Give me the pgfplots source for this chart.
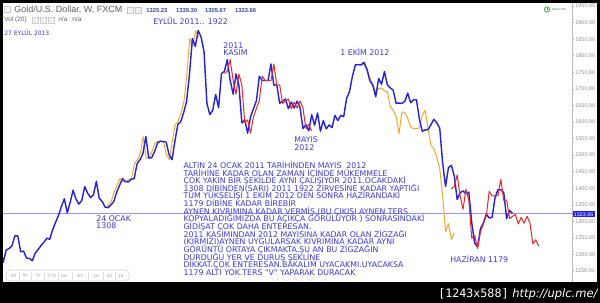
\documentclass[border=0pt]{standalone}
\usepackage{pgfplots}
\pgfplotsset{compat=1.18}
\usepackage{fontspec}
\setmainfont{Liberation Sans}
\newfontfamily\dv{DejaVu Sans}
\newfontfamily\dvm{DejaVu Sans Mono}
\definecolor{bl}{RGB}{35,35,220}
\definecolor{org}{RGB}{246,168,40}
\definecolor{rd}{RGB}{232,40,40}
\definecolor{txtb}{RGB}{62,58,218}
\definecolor{cur}{RGB}{150,150,240}
\definecolor{numb}{RGB}{55,75,165}
\definecolor{curbox}{RGB}{30,30,235}
\newcommand{\ann}[3]{\node[anchor=base west,inner sep=0pt,text=txtb,font=\dv\fontsize{4.7pt}{5pt}\selectfont] at (#1,#2) {#3};}
\newcommand{\pline}[2]{\node[anchor=base west,inner sep=0pt,text=txtb,font=\dv\fontsize{4.7pt}{5pt}\selectfont] at (183.3,#1) {#2};}
\begin{document}
\begin{tikzpicture}
\fill[black] (0,0) rectangle (360pt,-181.8pt);
\useasboundingbox (0,0) rectangle (360pt,-181.8pt);
\fill[white] (1.8pt,-1.8pt) rectangle (358.2pt,-169.2pt);
\begin{axis}[
  at={(1.8pt,-169.2pt)}, anchor=south west,
  width=341.4pt, height=167.4pt, scale only axis,
  xmin=-36.08, xmax=159.45, ymin=1116.8, ymax=1959.06,
  axis x line=none, axis y line*=right,
  xtick=\empty,
  ytick={1150,1200,...,1950},
  y axis line style={draw=gray!55, line width=0.4pt},
  ytick style={draw=gray!55, line width=0.3pt},
  major tick length=1.2pt, tick align=outside,
  /pgf/number format/assume math mode=true,
  yticklabel style={font=\fontsize{3.3pt}{4pt}\selectfont, text=gray!85, inner sep=0.6pt,
    /pgf/number format/.cd, fixed, fixed zerofill, precision=2, 1000 sep={}},
  no marks,
]
\addplot[cur, line width=0.45pt] coordinates {(-37,1323.66)(160,1323.66)};
% orange: copy of the Jan-Sep 2011 rise (left) and its inverted copy (right)
\addplot[org, line width=0.6pt, line join=round] coordinates {
(-0.9,1341)(0.1,1349)(1.1,1360)(2.1,1388)(3.1,1409)(4.1,1429)(5.1,1420)(6.1,1419)(7.1,1427)(8.1,1429)(9.1,1474)(10.1,1486)(11.1,1504)(12.1,1556)(13.1,1491)(14.1,1492)(15.1,1510)(16.1,1536)(17.1,1542)(18.1,1541)(19.1,1539)(20.1,1501)(21.1,1486)(22.1,1542)(23.1,1592)(24.1,1601)(25.1,1628)(26.1,1662)(27.1,1743)(28.1,1852)(29.1,1828)(30.1,1876)(31.1,1856)};
\addplot[org, line width=0.6pt, line join=round] coordinates {
(87,1780)(88,1772)(89,1761)(90,1733)(91,1712)(92,1692)(93,1701)(94,1702)(95,1694)(96,1692)(97,1647)(98,1635)(99,1617)(100,1565)(101,1630)(102,1629)(103,1611)(104,1585)(105,1579)(106,1580)(107,1582)(108,1620)(109,1635)(110,1579)(111,1529)(112,1520)(113,1493)(114,1459)(115,1378)(116,1269)(117,1293)(118,1245)(119,1265)};
% blue: weekly gold price
\addplot[bl, line width=0.85pt, line join=round] coordinates {
(-37,1228)(-36,1176)(-35,1213)(-34,1218)(-33,1226)(-32,1256)(-31,1256)(-30,1208)(-29,1210)(-28,1189)(-27,1188)(-26,1181)(-25,1204)(-24,1215)(-23,1227)(-22,1237)(-21,1249)(-20,1246)(-19,1275)(-18,1297)(-17,1318)(-16,1345)(-15,1368)(-14,1326)(-13,1357)(-12,1394)(-11,1367)(-10,1352)(-9,1363)(-8,1405)(-7,1385)(-6,1372)(-5,1380)(-4,1421)(-3,1369)(-2,1360)(-1,1343)(0,1341)
(1,1349)(2,1360)(3,1388)(4,1409)(5,1429)(6,1420)(7,1419)(8,1427)(9,1429)(10,1474)(11,1486)(12,1504)(13,1556)(14,1491)(15,1492)(16,1510)(17,1536)(18,1542)(19,1541)(20,1539)(21,1501)(22,1486)(23,1542)(24,1592)(25,1601)(26,1628)(27,1662)(28,1743)(29,1852)(30,1828)(31,1876)(32,1856)(33,1812)(34,1656)(35,1622)(36,1635)(37,1683)(38,1643)(39,1746)(40,1753)(41,1788)(42,1725)(43,1684)(44,1745)(45,1711)(46,1597)(47,1606)(48,1566)(49,1616)(50,1640)(51,1664)(52,1738)(53,1725)(54,1725)(55,1725)(56,1775)(57,1711)(58,1712)(59,1656)(60,1663)(61,1669)(62,1640)(63,1660)(64,1642)(65,1663)(66,1643)(67,1580)(68,1592)(69,1573)(70,1622)(71,1590)(72,1627)(73,1572)(74,1604)(75,1579)(76,1591)(77,1583)(78,1620)(79,1604)(80,1620)(81,1616)(82,1671)(83,1692)(84,1738)(85,1772)(86,1773)(87,1772)(88,1780)(89,1758)(90,1724)(91,1711)(92,1676)(93,1731)(94,1714)(95,1752)(96,1712)(97,1703)(98,1696)(99,1657)(100,1657)(101,1656)(102,1662)(103,1687)(104,1658)(105,1667)(106,1667)(107,1609)(108,1572)(109,1576)(110,1577)(111,1592)(112,1608)(113,1597)(114,1581)(115,1476)(116,1405)(117,1462)(118,1469)(119,1437)(120,1366)(121,1386)(122,1392)(123,1383)(124,1388)(125,1296)(126,1234)(127,1223)(128,1278)(129,1295)(130,1322)(131,1310)(132,1312)(133,1371)(134,1396)(135,1395)(136,1387)(137,1308)(138,1333)(139,1324)};
% red: copy of the Nov 2011 - May 2012 zigzag
\addplot[rd, line width=0.6pt, line join=round] coordinates {
(40,1746)(41,1753)(42,1788)(43,1725)(44,1684)(45,1745)(46,1711)(47,1597)(48,1606)(49,1566)(50,1616)(51,1640)(52,1664)(53,1738)(54,1725)(55,1725)(56,1725)(57,1775)(58,1711)(59,1712)(60,1656)(61,1663)(62,1669)(63,1640)(64,1660)(65,1642)(66,1663)(67,1643)(68,1580)(69,1592)(70,1573)};
\addplot[rd, line width=0.6pt, line join=round] coordinates {
(118,1398)(119,1405)(120,1440)(121,1377)(122,1336)(123,1397)(124,1363)(125,1249)(126,1258)(127,1218)(128,1268)(129,1292)(130,1316)(131,1390)(132,1377)(133,1377)(134,1377)(135,1427)(136,1363)(137,1364)(138,1308)(139,1315)(140,1321)(141,1292)(142,1312)(143,1294)(144,1315)(145,1295)(146,1232)(147,1244)(148,1225)};
\end{axis}
\begin{scope}[x=0.6pt,y=-0.6pt]
% header
\draw[gray!40, fill=gray!6, line width=0.3pt] (4,6) rectangle (10,12);
\node[anchor=base west,inner sep=0pt,text=black!62,font=\fontsize{5.4pt}{6pt}\selectfont] at (14,12.5) {Gold/U.S. Dollar, W, FXCM};
\draw[gray!45, fill=gray!12, line width=0.3pt] (127,7) rectangle (133,13);
\draw[gray!45, fill=gray!12, line width=0.3pt] (135,7) rectangle (141,13);
\foreach \xx/\tt in {146/1325.23,175.7/1339.30,204.7/1305.67,234.7/1323.66}
  \node[anchor=base west,inner sep=0pt,text=numb,font=\bfseries\fontsize{3.5pt}{4pt}\selectfont] at (\xx,12.3) {\tt};
\node[anchor=base west,inner sep=0pt,text=black!60,font=\fontsize{3.9pt}{4.5pt}\selectfont] at (4,22) {Vol (20)};
\foreach \xx in {32,40,48}
  \draw[gray!40, fill=gray!10, line width=0.3pt] (\xx,17) rectangle ++(6,6);
\node[anchor=base west,inner sep=0pt,text=black!60,font=\fontsize{3.9pt}{4.5pt}\selectfont] at (58,22) {n/a};
\node[anchor=base west,inner sep=0pt,text=black!60,font=\fontsize{3.9pt}{4.5pt}\selectfont] at (72,22) {n/a};
\node[anchor=base west,inner sep=0pt,text=txtb,font=\dv\fontsize{3.6pt}{4pt}\selectfont] at (4,36) {27 EYLÜL 2013};
% realtime icon
\draw[green!50!black!80, line width=0.45pt] (547,9.5) circle (2.6);
\draw[green!50!black!80, line width=0.35pt] (547,8) -- (547,9.5) -- (548.3,9.5);
\node[anchor=base west,inner sep=0pt,text=green!35!black!70,font=\fontsize{1.7pt}{2pt}\selectfont] at (551.5,10.6) {REALTIME};
% range selector
\draw[gray!35, fill=white, rounded corners=2.4pt, line width=0.35pt] (6,270) rectangle (129,281);
\foreach \xx in {19,31.5,44.5,58.5,72,88,103,115}
  \draw[gray!25, line width=0.3pt] (\xx,271.5) -- (\xx,279.5);
\foreach \xx/\tt in {13.3/All,25/6y,38.3/1y,51.7/YTD,64.5/6m,80/3m,96.5/1m,109.3/5d,121/1d}
  \node[inner sep=0pt,text=gray!70,font=\fontsize{2.7pt}{3pt}\selectfont] at (\xx,275.6) {\tt};
\foreach \xx in {275,287,299,311,323}
  \draw[gray!22, line width=0.35pt] (\xx,277) circle (3.6);
% labels
\ann{153}{25}{EYLÜL 2011.. 1922}
\ann{223}{48.5}{2011}
\ann{223}{56}{KASIM}
\ann{340}{56}{1 EKİM 2012}
\ann{294}{142}{MAYIS}
\ann{294}{150}{2012}
\ann{96}{221}{24 OCAK}
\ann{96}{228.5}{1308}
\ann{450}{262}{HAZİRAN 1179}
% paragraph
\pline{168.3}{ALTIN 24 OCAK 2011 TARİHİNDEN MAYIS\ \ 2012}
\pline{176.0}{TARİHİNE KADAR OLAN ZAMAN İÇİNDE MÜKEMMELE}
\pline{183.6}{ÇOK YAKIN BİR ŞEKİLDE AYNI ÇALIŞIYOR 2011.OCAKDAKİ}
\pline{191.3}{1308 DİBİNDEN(SARI) 2011 1922 ZİRVESİNE KADAR YAPTIĞI}
\pline{198.9}{TÜM YÜKSELİŞİ 1 EKİM 2012 DEN SONRA HAZİRANDAKİ}
\pline{206.6}{1179 DİBİNE KADAR BİREBİR}
\pline{214.3}{AYNEN KIVRIMINA KADAR VERMİŞ.(BU ÇIKIŞI AYNEN TERS}
\pline{221.9}{KOPYALADIĞIMIZDA BU AÇIKÇA GÖRÜLÜYOR ) SONRASINDAKİ}
\pline{229.6}{GİDİŞAT ÇOK DAHA ENTERESAN.}
\pline{237.2}{2011 KASİMINDAN 2012 MAYISINA KADAR OLAN ZİGZAĞI}
\pline{244.9}{(KIRMIZI)AYNEN UYGULARSAK KIVRIMINA KADAR AYNI}
\pline{252.6}{GÖRÜNTÜ ORTAYA ÇIKMAKTA.ŞU AN BU ZİGZAĞIN}
\pline{260.2}{DURDUĞU YER VE DURUŞ ŞEKLİNE}
\pline{267.9}{DİKKAT.ÇOK ENTERESAN.BAKALIM UYACAKMI.UYACAKSA}
\pline{275.5}{1179 ALTI YOK.TERS "V" YAPARAK DURACAK}
% current price box
\node[anchor=west, fill=curbox, text=white, inner xsep=0.8pt, inner ysep=0.5pt, font=\fontsize{3.2pt}{3.6pt}\selectfont] at (572.3,214.2) {1323.66};
% bottom band text
\node[anchor=base west,inner sep=0pt,text=white,font=\dvm\fontsize{7pt}{8pt}\selectfont] at (438,297.5) {[1243x588]};
\node[anchor=base west,inner sep=0pt,text=white,font=\dv\itshape\fontsize{6.9pt}{8pt}\selectfont] at (512,297.5) {http://uplc.me/};
\end{scope}
\end{tikzpicture}
\end{document}
